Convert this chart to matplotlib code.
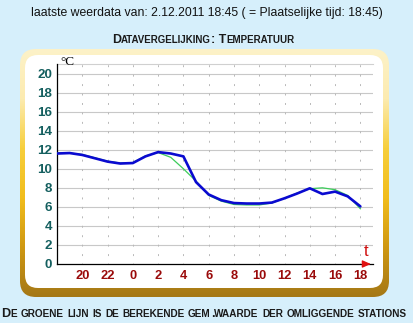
import numpy as np
import matplotlib
matplotlib.use("Agg")
import matplotlib.pyplot as plt
from matplotlib.patches import FancyBboxPatch
from matplotlib.colors import LinearSegmentedColormap

# ---- data ----
hours = list(range(0, 25))  # hours since 18:00 of previous day
station_temp = [11.6, 11.65, 11.45, 11.1, 10.75, 10.55, 10.6, 11.3, 11.75, 11.6,
                11.3, 8.6, 7.3, 6.7, 6.4, 6.35, 6.35, 6.45, 6.9, 7.4,
                7.95, 7.35, 7.6, 7.1, 6.05]
area_mean = [11.65, 11.65, 11.5, 11.15, 10.8, 10.6, 10.65, 11.35, 11.7, 11.2,
             10.0, 8.7, 7.2, 6.6, 6.25, 6.2, 6.2, 6.4, 6.9, 7.45,
             7.9, 8.0, 7.8, 7.2, 5.8]
xtick_pos = [2, 4, 6, 8, 10, 12, 14, 16, 18, 20, 22, 24]
xtick_labels = ["20", "22", "0", "2", "4", "6", "8", "10", "12", "14", "16", "18"]
ytick_pos = list(range(0, 21, 2))

header = "laatste weerdata van: 2.12.2011 18:45 ( = Plaatselijke tijd: 18:45)"
title = "Datavergelijking: Temperatuur"
footer = "De groene lijn is de berekende gem.waarde der omliggende stations"

W, H = 413, 323
plt.rcParams['lines.scale_dashes'] = False
fig = plt.figure(figsize=(W / 100, H / 100), dpi=100)
fig.patch.set_facecolor("#d6effb")

def fx(px):
    return px / W

def fy(py):
    return 1 - py / H

# ---- frame with gradient ----
x0, y0, x1, y1 = 20, 49, 389, 297
bg_ax = fig.add_axes([0, 0, 1, 1], zorder=0)
bg_ax.set_xlim(0, W)
bg_ax.set_ylim(H, 0)
bg_ax.axis("off")
cmap = LinearSegmentedColormap.from_list(
    "frame", [(0, "#fdf2c8"), (0.2, "#fcebb0"), (0.4, "#f7cf3c"),
              (0.6, "#f1bd1c"), (0.8, "#cf9812"), (1.0, "#a57816")])
grad = np.linspace(0, 1, 256).reshape(-1, 1)
im = bg_ax.imshow(grad, cmap=cmap, aspect="auto", extent=(x0, x1, y1, y0), zorder=1)
outer = FancyBboxPatch((x0, y0), x1 - x0, y1 - y0,
                       boxstyle="round,pad=0,rounding_size=16",
                       facecolor="none", edgecolor="none", transform=bg_ax.transData)
bg_ax.add_patch(outer)
im.set_clip_path(outer)
inner = FancyBboxPatch((25, 55), 383 - 25, 288 - 55,
                       boxstyle="round,pad=0,rounding_size=13",
                       facecolor="white", edgecolor="none", zorder=2,
                       transform=bg_ax.transData)
bg_ax.add_patch(inner)

# ---- chart axes ----
ax_left, ax_right, ax_top, ax_bottom = 57, 373, 64, 264
ax = fig.add_axes([fx(ax_left), fy(ax_bottom), fx(ax_right - ax_left),
                   (ax_bottom - ax_top) / H], zorder=3)
ax.patch.set_alpha(0)
ax.set_xlim(0, 25)
ax.set_ylim(0, 21)

for yv in ytick_pos[1:]:
    ax.axhline(yv, color="#c8c8c8", lw=0.8, zorder=1)
ax.axhline(21, color="#d0d0d0", lw=0.8, zorder=1, clip_on=False)
for xv in xtick_pos:
    ax.plot([xv, xv], [-0.1, 21], color="#b8b8b8", lw=0.7,
            linestyle=(0, (1.4, 5.4)), zorder=1)

ax.plot(hours, area_mean, color="#3ccc5a", lw=0.9, zorder=3)
ax.plot(hours, station_temp, color="#0a0ad0", lw=1.9, zorder=4,
        solid_joinstyle="round", solid_capstyle="round")

for s in ["top", "right"]:
    ax.spines[s].set_visible(False)
ax.spines["left"].set_color("black")
ax.spines["bottom"].set_color("black")
ax.spines["left"].set_linewidth(0.9)
ax.spines["bottom"].set_linewidth(0.9)
ax.annotate("", xy=(25.05, 0), xytext=(24.3, 0),
            arrowprops=dict(arrowstyle="-|>,head_length=0.5,head_width=0.22",
                            color="#e01010", lw=0.9), annotation_clip=False, zorder=5)

ax.set_xticks(xtick_pos)
ax.set_xticklabels(xtick_labels, fontfamily="Liberation Sans", fontweight="bold",
                   fontsize=9.3, color="#9a0a0a")
ax.set_yticks(ytick_pos)
ax.set_yticklabels([str(v) for v in ytick_pos], fontfamily="Liberation Sans",
                   fontweight="bold", fontsize=9.6, color="#145f5f")
ax.tick_params(axis="both", length=0)
ax.tick_params(axis="x", pad=4.5)
ax.tick_params(axis="y", pad=3.5)

ax.text(0.25, 21.2, "°C", fontfamily="Liberation Serif", fontsize=9.5,
        color="black", ha="left", va="center")
ax.text(24.45, 0.55, "t", fontfamily="Liberation Sans", fontsize=12,
        color="#d01010", ha="center", va="bottom")

# ---- header texts ----
fig.text(0.5, fy(13), header, fontfamily="Liberation Sans", fontsize=8.85,
         color="#111111", ha="center", va="center")

renderer = fig.canvas.get_renderer()

def small_caps(text, cx, cy, big, small, weight, color):
    runs = []
    for ch in text:
        is_small = ch.islower()
        if runs and runs[-1][1] == is_small:
            runs[-1][0] += ch
        else:
            runs.append([ch, is_small])
    objs = []
    widths = []
    for s, is_small in runs:
        t = fig.text(0, 0, s.upper(), fontfamily="Liberation Sans",
                     fontsize=small if is_small else big, fontweight=weight,
                     color=color, ha="left", va="baseline")
        objs.append(t)
        widths.append(t.get_window_extent(renderer).width)
    tot = sum(widths)
    x = cx - tot / 2
    for t, w in zip(objs, widths):
        t.set_position((x / W, fy(cy)))
        x += w

small_caps(title, 203, 43, 8.9, 7.0, "bold", "#1a1a1a")
small_caps(footer, 204, 317, 9.1, 7.2, "bold", "#1a1a1a")

fig.savefig("out.png", dpi=100)
